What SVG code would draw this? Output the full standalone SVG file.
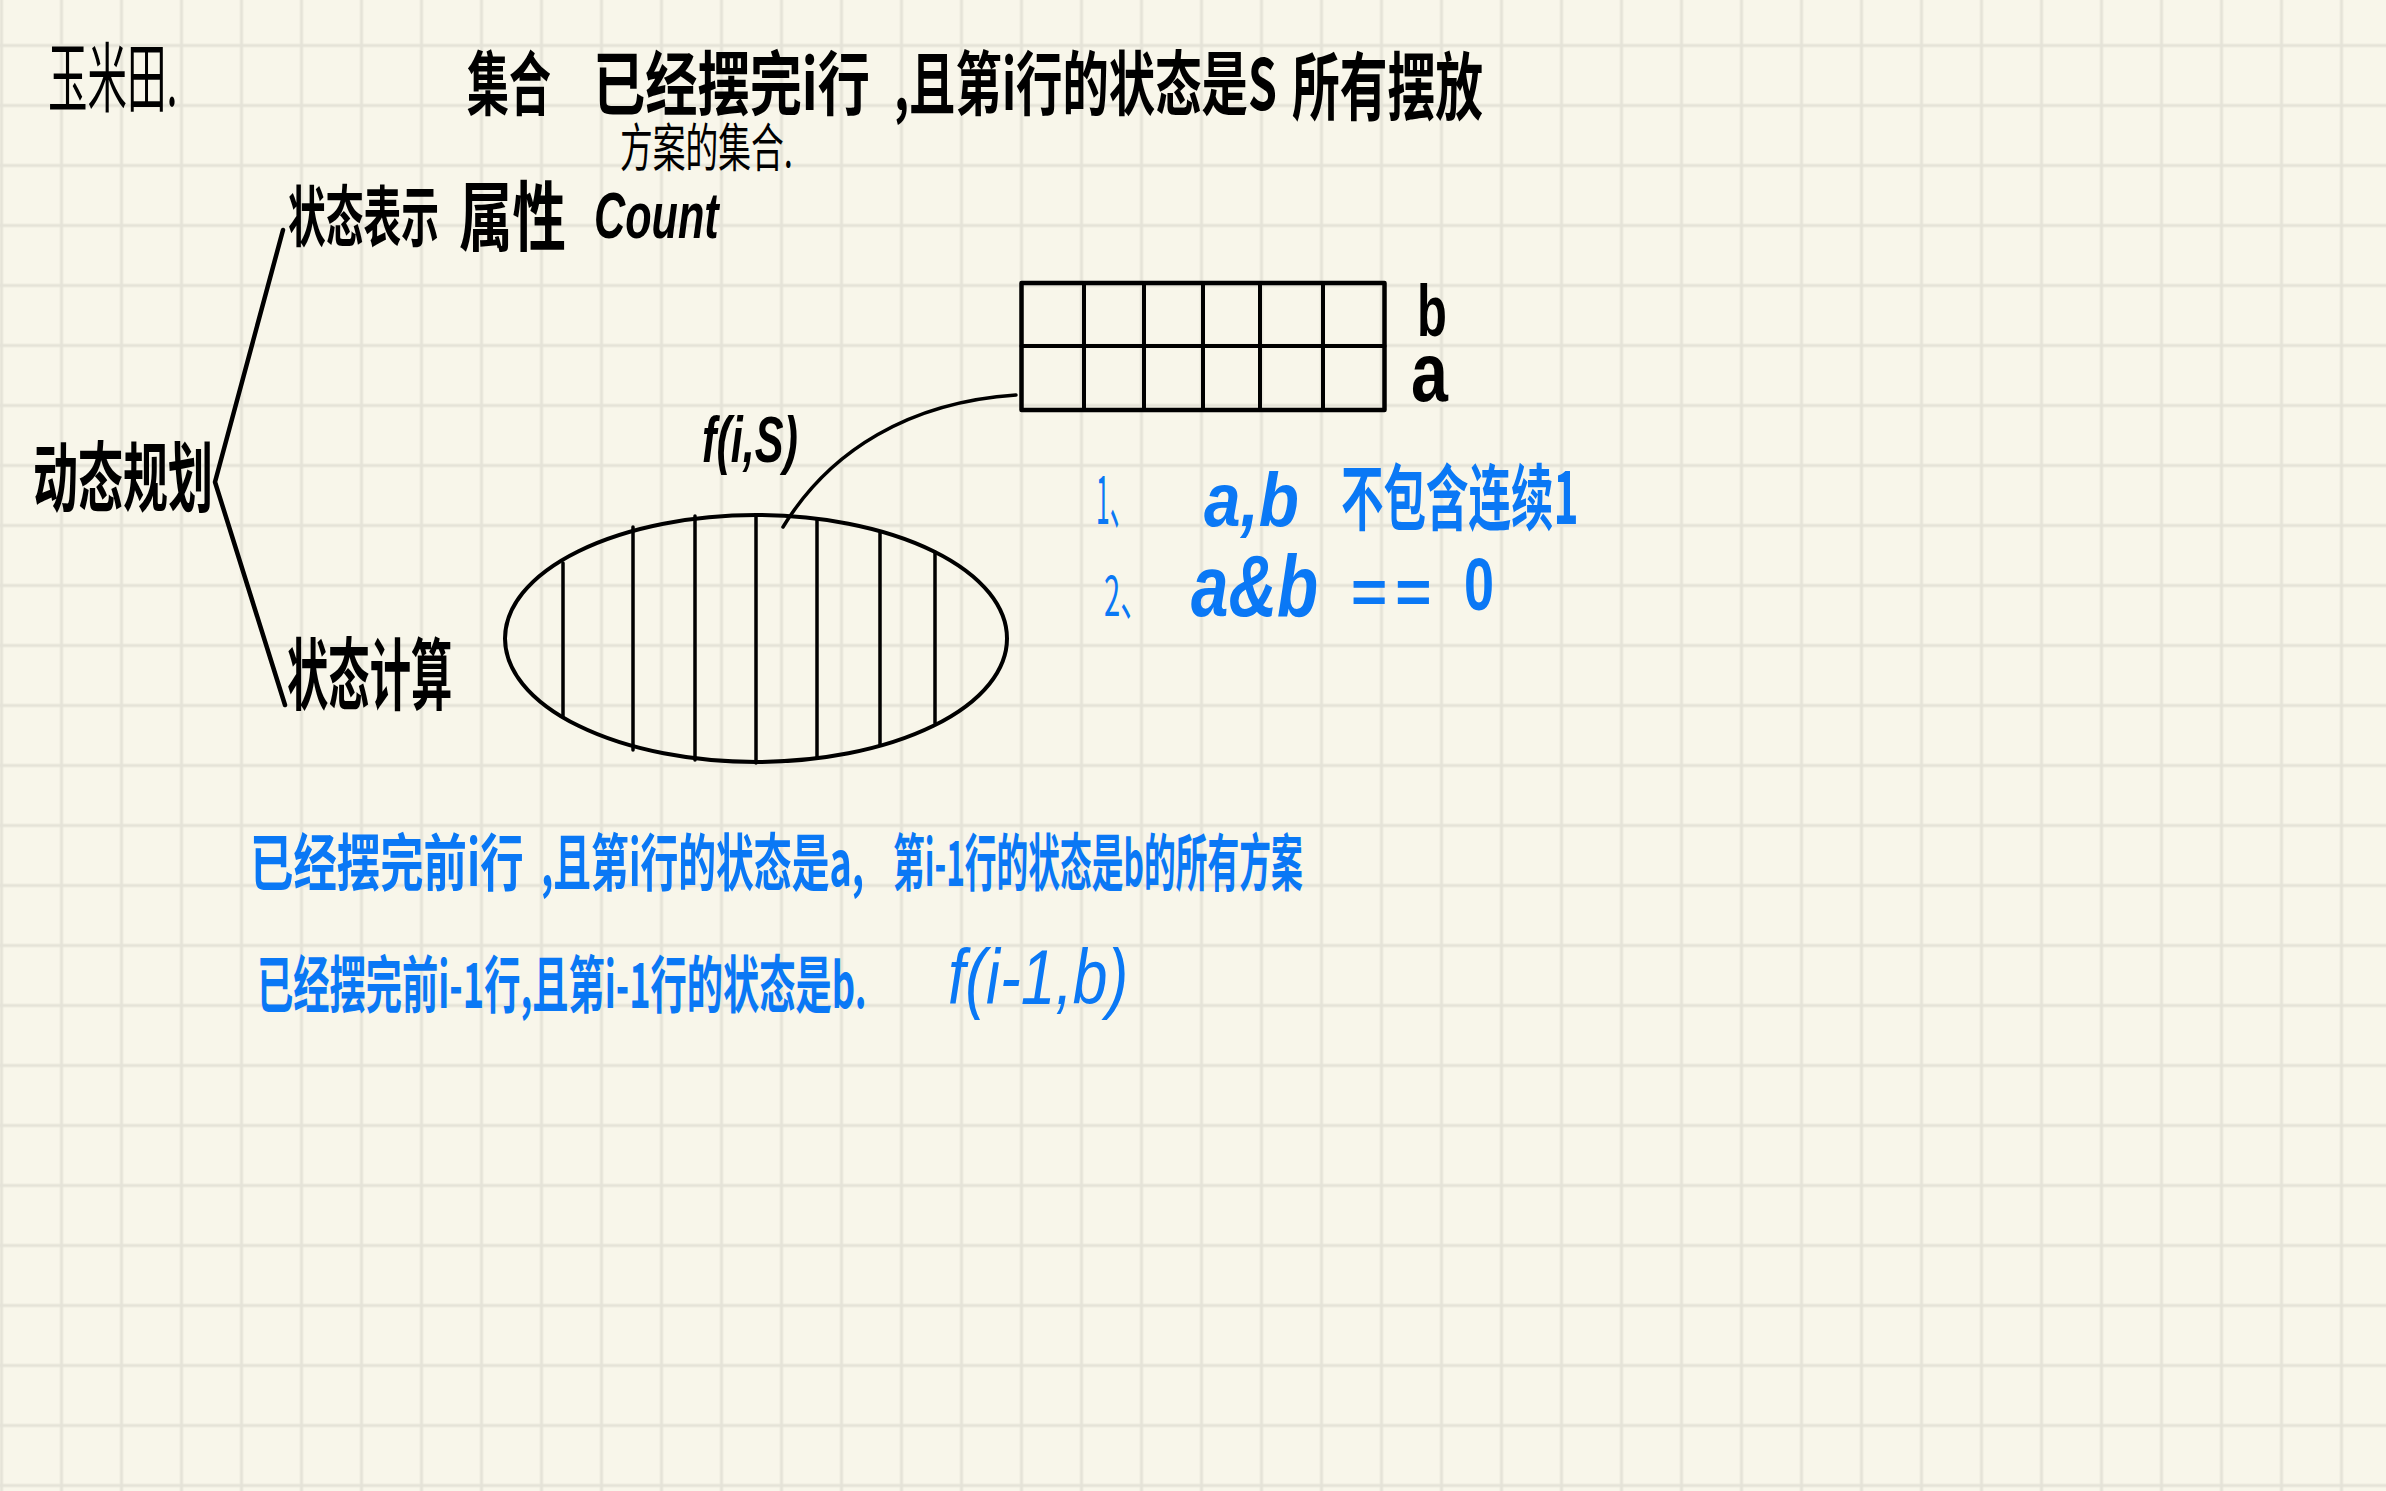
<svg xmlns="http://www.w3.org/2000/svg" width="2386" height="1491" viewBox="0 0 2386 1491">
<style>
text{font-family:"Noto Sans CJK SC","Noto Sans",sans-serif}
.k{fill:#000;font-weight:700}
.b{fill:#0a78f5;font-weight:700}
.r{font-weight:400}
.l{font-family:"Liberation Sans","Noto Sans CJK SC",sans-serif;font-style:italic}
.u{font-style:normal}
.t{font-weight:400}
.s{fill:none;stroke:#000;stroke-linecap:round;stroke-linejoin:round}
</style>
<defs>
<pattern id="grid" width="60" height="60" patternUnits="userSpaceOnUse" x="31.5" y="15.5">
<path d="M30 0V60M0 30H60" fill="none" stroke="#e5e3d8" stroke-width="3"/>
</pattern>
</defs>
<rect width="2386" height="1491" fill="#f8f6ea"/>
<rect width="2386" height="1491" fill="url(#grid)"/>
<g id="connectors">
<path class="s" stroke-width="4.5" d="M283 230L215 482L285 705"/>
<path class="s" stroke-width="3.5" d="M1016 395C910 402 830 450 783 527"/>
</g>
<g id="title">
<text class="k r" transform="translate(48 106) scale(.52 1)" font-size="76">玉米田.</text>
<text class="k" transform="translate(467 110) scale(.6 1)" font-size="70">集合</text>
<text class="k" transform="translate(593 110) scale(.746 1)" font-size="70">已经摆完i行</text>
<text class="k" transform="translate(894 110) scale(.663 1)" font-size="70">,且第i行的状态是S</text>
<text class="k" transform="translate(1292 114) scale(.645 1)" font-size="74">所有摆放</text>
<text class="k r" transform="translate(620 167) scale(.63 1)" font-size="52">方案的集合.</text>
</g>
<g id="node-root"><text class="k" transform="translate(33 506) scale(.592 1)" font-size="76">动态规划</text></g>
<g id="node-state">
<text class="k" transform="translate(288 241) scale(.572 1)" font-size="66">状态表示</text>
<text class="k" transform="translate(459 245) scale(.704 1)" font-size="76">属性</text>
<text class="k l" transform="translate(594 238) scale(.675 1)" font-size="64">Count</text>
</g>
<g id="node-compute"><text class="k" transform="translate(287 704) scale(.53 1)" font-size="78">状态计算</text></g>
<g id="node-set">
<ellipse class="s" stroke-width="4" cx="756" cy="638.5" rx="251" ry="123.5"/>
<path class="s" stroke-width="3.5" d="M563 563V717M633 527V750M695 516V760M756 515V763M817 520V758M880 533V745M935 552V723"/>
<text class="k l" transform="translate(702 462) scale(.675 1)" font-size="64">f(i,S)</text>
</g>
<g id="node-rows">
<rect class="s" stroke-width="4.5" x="1021.5" y="283" width="363" height="127"/>
<path class="s" stroke-width="4" d="M1021.5 346H1384.5M1084 283V410M1144 283V410M1203 283V410M1260 283V410M1323 283V410"/>
<text class="k l u" transform="translate(1417 336) scale(.68 1)" font-size="72">b</text>
<text class="k l u" transform="translate(1411 401) scale(.79 1)" font-size="84">a</text>
</g>
<g id="conditions">
<text class="b r" transform="translate(1096 524) scale(.375 1)" font-size="66">1、</text>
<text class="b l" transform="translate(1204 526) scale(.865 1)" font-size="76">a,b</text>
<text class="b" transform="translate(1341 524) scale(.59 1)" font-size="72">不包含连续1</text>
<text class="b r" transform="translate(1104 616) scale(.54 1)" font-size="54">2、</text>
<text class="b l" transform="translate(1191 616) scale(.765 1)" font-size="88">a&amp;b</text>
<text class="b l u" x="1351" y="613" font-size="62" letter-spacing="8">==</text>
<text class="b l u" transform="translate(1464 610) scale(.73 1)" font-size="74">0</text>
</g>
<g id="derivation">
<text class="b" transform="translate(250 886) scale(.7 1)" font-size="62">已经摆完前i行</text>
<text class="b" transform="translate(541 886) scale(.61 1)" font-size="62">,且第i行的状态是a,</text>
<text class="b" transform="translate(893 886) scale(.512 1)" font-size="62">第i-1行的状态是b的所有方案</text>
<text class="b" transform="translate(257 1008) scale(.585 1)" font-size="62">已经摆完前i-1行,且第i-1行的状态是b.</text>
<text class="b l t" transform="translate(948 1004) scale(.8 1)" font-size="78">f(i-1,b)</text>
</g>
</svg>
